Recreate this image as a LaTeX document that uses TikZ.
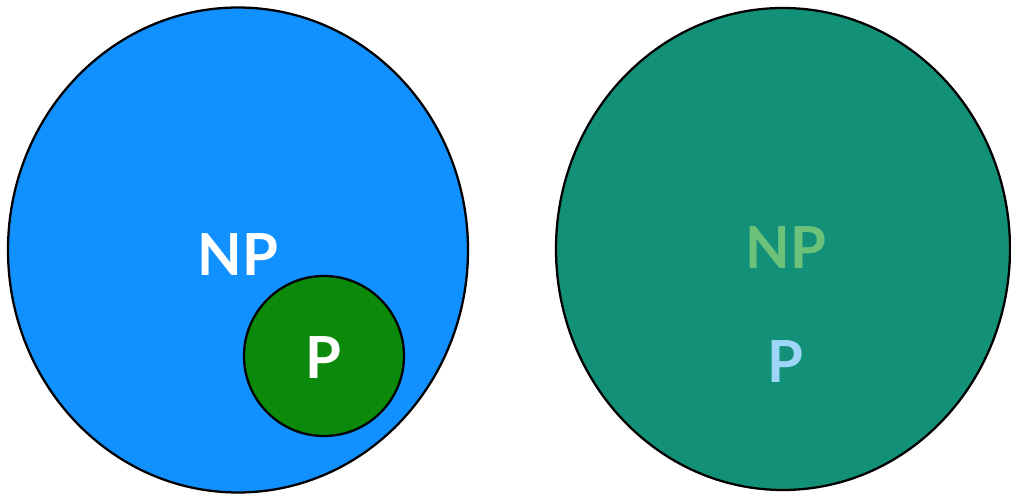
\documentclass[tikz,border=0pt]{standalone}
\usepackage{fontspec}
\setmainfont{Lato}
\usepackage{tikz}

\definecolor{npblue}{HTML}{1191FF}
\definecolor{pgreen}{HTML}{0A890A}
\definecolor{tealfill}{HTML}{139178}
\definecolor{nplight}{HTML}{6DC27A}
\definecolor{plight}{HTML}{9ED6F7}

\tikzset{
    setline/.style={draw=black,line width=1.3pt},
    setlabel/.style={font=\fontsize{33}{36}\selectfont\bfseries}
}

\begin{document}
\begin{tikzpicture}
    \useasboundingbox (0,0) rectangle (20.22,9.9);
    % Left: P inside NP
    \draw[setline,fill=npblue] (4.76,4.90) ellipse (4.60 and 4.85);
    \node[setlabel,text=white] (npleft) at (4.76,4.80) {NP};
    \draw[setline,fill=pgreen] (6.48,2.78) circle (1.60);
    \node[setlabel,text=white] (pleft) at (6.46,2.74) {P};

    % Right: P equals NP
    \draw[setline,fill=tealfill] (15.66,4.92) ellipse (4.54 and 4.82);
    \node[setlabel,text=nplight] (npright) at (15.72,4.94) {NP};
    \node[setlabel,text=plight] (pright) at (15.70,2.66) {P};
\end{tikzpicture}
\end{document}
